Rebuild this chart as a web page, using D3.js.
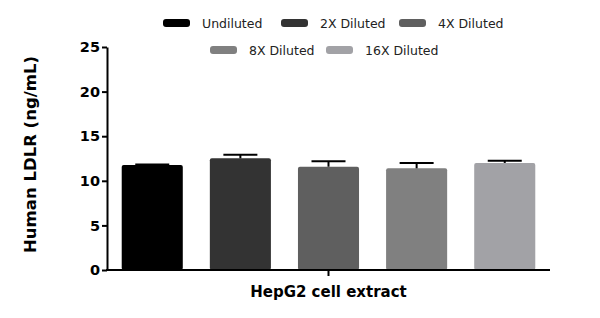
<!DOCTYPE html>
<html>
<head>
<meta charset="utf-8">
<script src="https://cdn.jsdelivr.net/npm/d3@7"></script>
<style>
  body { margin: 0; background: #fff; }
  text { font-family: "DejaVu Sans", sans-serif; }
  .ejes path, .ejes line { stroke: #000; stroke-width: 2; }
  .ejes text { font-size: 14.5px; font-weight: bold; fill: #000; }
  .labels { font-size: 15px; font-weight: bold; fill: #000; }
  .leyenda { font-size: 12.5px; fill: #222; }
</style>
</head>
<body>
<div id="graf"></div>
<script>
const categorias = ["Undiluted", "2X Diluted", "4X Diluted", "8X Diluted", "16X Diluted"]
const valores = [11.77, 12.52, 11.58, 11.4, 12.0]
const errores = [0.05, 0.4, 0.6, 0.6, 0.25]
const colores = ["#000000", "#333333", "#5f5f5f", "#808080", "#a2a2a6"]
const yTicks = [0, 5, 10, 15, 20, 25]

const anchoTotal = 600
const altoTotal = 318
const margins = { left: 107, top: 47, right: 50, bottom: 48 }
const ancho = anchoTotal - margins.left - margins.right
const alto = altoTotal - margins.top - margins.bottom

const svg = d3.select("#graf")
  .append("svg")
  .attr("width", anchoTotal)
  .attr("height", altoTotal)

const g = svg.append("g")
  .attr("transform", `translate(${margins.left}, ${margins.top})`)

const x = d3.scaleBand().domain(categorias).range([0, ancho]).paddingInner(0.307).paddingOuter(0.167)
const y = d3.scaleLinear().domain([0, 25]).range([alto, 0])

// barras
g.selectAll("rect.barra")
  .data(categorias)
  .enter()
  .append("rect")
  .attr("class", "barra")
  .attr("x", (d) => x(d))
  .attr("y", (d, i) => y(valores[i]))
  .attr("width", x.bandwidth())
  .attr("height", (d, i) => y(0) - y(valores[i]))
  .attr("rx", 2)
  .attr("fill", (d, i) => colores[i])

// barras de error
const cap = 34
categorias.forEach((d, i) => {
  const cx = x(d) + x.bandwidth() / 2
  g.append("line")
    .attr("x1", cx).attr("x2", cx)
    .attr("y1", y(valores[i])).attr("y2", y(valores[i] + errores[i]))
    .attr("stroke", "#000").attr("stroke-width", 2)
  g.append("line")
    .attr("x1", cx - cap / 2).attr("x2", cx + cap / 2)
    .attr("y1", y(valores[i] + errores[i])).attr("y2", y(valores[i] + errores[i]))
    .attr("stroke", "#000").attr("stroke-width", 2)
})

// ejes
g.append("g")
  .attr("class", "ejes")
  .call(d3.axisLeft(y).tickValues(yTicks).tickSize(5).tickSizeOuter(0).tickPadding(2))

const xEje = g.append("g")
  .attr("class", "ejes")
  .attr("transform", `translate(0, ${alto})`)
xEje.append("line").attr("x1", -1).attr("x2", ancho).attr("stroke", "#000").attr("stroke-width", 2)
xEje.append("line").attr("x1", ancho / 2).attr("x2", ancho / 2).attr("y1", 0).attr("y2", 6)
  .attr("stroke", "#000").attr("stroke-width", 2)

g.append("text")
  .attr("x", ancho / 2)
  .attr("y", alto + 27)
  .attr("text-anchor", "middle")
  .attr("class", "labels")
  .text("HepG2 cell extract")

g.append("text")
  .attr("transform", `translate(${-71}, ${alto / 2 - 4}) rotate(-90)`)
  .attr("text-anchor", "middle")
  .attr("class", "labels")
  .style("font-size", "16.5px")
  .text("Human LDLR (ng/mL)")

// leyenda
const posLeyenda = [[163, 23], [281, 23], [399, 23], [210, 50], [326, 50]]
const ley = svg.selectAll("g.ley")
  .data(categorias)
  .enter()
  .append("g")
  .attr("class", "ley")
  .attr("transform", (d, i) => `translate(${posLeyenda[i][0]}, ${posLeyenda[i][1]})`)
ley.append("rect")
  .attr("x", 0).attr("y", -4).attr("width", 27).attr("height", 8).attr("rx", 3)
  .attr("fill", (d, i) => colores[i])
ley.append("text")
  .attr("x", 39).attr("y", 4.5)
  .attr("class", "leyenda")
  .text((d) => d)
</script>
</body>
</html>
